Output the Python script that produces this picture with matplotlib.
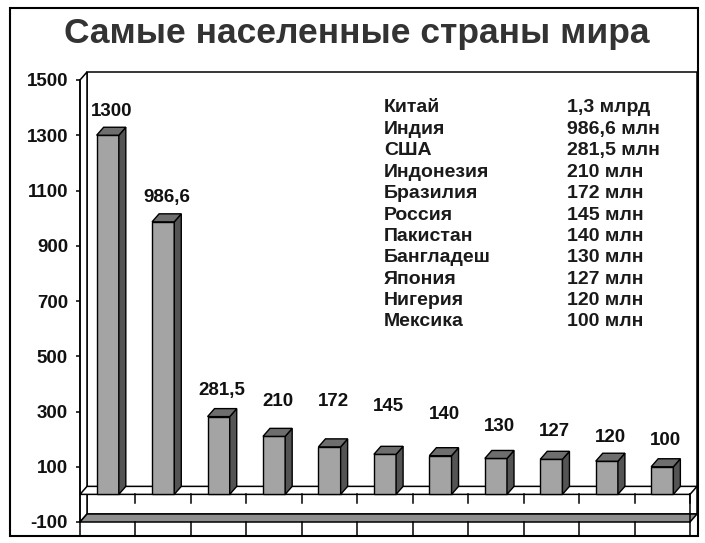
import matplotlib
matplotlib.use("Agg")
import matplotlib.pyplot as plt
from matplotlib.patches import Polygon, Rectangle

# ---------------- data ----------------
countries = ["Китай", "Индия", "США", "Индонезия", "Бразилия", "Россия",
             "Пакистан", "Бангладеш", "Япония", "Нигерия", "Мексика"]
population = [1300, 986.6, 281.5, 210, 172, 145, 140, 130, 127, 120, 100]
bar_labels = ["1300", "986,6", "281,5", "210", "172", "145", "140",
              "130", "127", "120", "100"]
legend_values = ["1,3 млрд", "986,6 млн", "281,5 млн", "210 млн", "172 млн",
                 "145 млн", "140 млн", "130 млн", "127 млн", "120 млн", "100 млн"]
yticks = [-100, 100, 300, 500, 700, 900, 1100, 1300, 1500]
title = "Самые населенные страны мира"

# ---------------- layout / style ----------------
plt.rcParams['font.family'] = ['Liberation Sans', 'DejaVu Sans']
W, H = 705, 543
DPI = 100
fig = plt.figure(figsize=(W / DPI, H / DPI), dpi=DPI)
fig.patch.set_facecolor('white')

AX_L, AX_R, AX_T, AX_B = 80, 690, 80, 522   # pixel box of front plane
ax = fig.add_axes([AX_L / W, 1 - AX_B / H, (AX_R - AX_L) / W, (AX_B - AX_T) / H])
ncat = len(population)
ymin, ymax = yticks[0], yticks[-1]
ax.set_xlim(0, ncat)
ax.set_ylim(ymin, ymax)
ax.set_facecolor('none')

px_x = (AX_R - AX_L) / ncat          # px per category
px_y = (AX_B - AX_T) / (ymax - ymin)  # px per value unit
DX = 7 / px_x
DY = 8 / px_y

LW = 1.1
# back wall
ax.add_patch(Polygon([(DX, ymin + DY), (DX, ymax + DY), (ncat + DX, ymax + DY),
                      (ncat + DX, ymin + DY)], closed=True, fc='white', ec='black',
                     lw=LW, clip_on=False, zorder=1))
# left wall
ax.add_patch(Polygon([(0, ymin), (0, ymax), (DX, ymax + DY), (DX, ymin + DY)],
                     closed=True, fc='white', ec='black', lw=LW, clip_on=False, zorder=1))
# floor at minimum
ax.add_patch(Polygon([(0, ymin), (ncat, ymin), (ncat + DX, ymin + DY), (DX, ymin + DY)],
                     closed=True, fc='#8e8e8e', ec='black', lw=LW, clip_on=False, zorder=2))
# zero plane
ax.add_patch(Polygon([(0, 0), (ncat, 0), (ncat + DX, DY), (DX, DY)],
                     closed=True, fc='white', ec='black', lw=LW, clip_on=False, zorder=2))
ax.plot([ncat, ncat], [ymin, 0], color='black', lw=LW, clip_on=False, zorder=2)

# category ticks
t1 = 9 / px_y
t2 = 13 / px_y
for i in range(ncat + 1):
    if i > 0:
        ax.plot([i, i], [0, -t1], color='black', lw=LW, clip_on=False, zorder=2)
    ax.plot([i, i], [ymin, ymin - t2], color='black', lw=LW, clip_on=False, zorder=2)

# bars
xs = [i + 0.5 for i in range(ncat)]
bars = ax.bar(xs, population, width=0.4, bottom=0, color='#a4a4a4',
              edgecolor='black', lw=1.0, zorder=5)
for rect in bars:
    xl = rect.get_x()
    xr = xl + rect.get_width()
    v = rect.get_height()
    ax.add_patch(Polygon([(xr, 0), (xr + DX, DY), (xr + DX, v + DY), (xr, v)],
                         closed=True, fc='#545454', ec='black', lw=1.0, zorder=5))
    ax.add_patch(Polygon([(xl, v), (xr, v), (xr + DX, v + DY), (xl + DX, v + DY)],
                         closed=True, fc='#6e6e6e', ec='black', lw=1.0, zorder=5))

# value labels (offset above bar top, in pixels)
label_off_px = [24, 24, 26, 35, 45, 48, 41, 32, 28, 24, 26]
for x, v, lab, off in zip(xs, population, bar_labels, label_off_px):
    ax.annotate(lab, xy=(x + DX / 2, v), xytext=(0, off * 72 / DPI),
                textcoords='offset points', ha='center', va='center',
                fontsize=13.5, fontweight='bold', color='#111111', zorder=6)

# axes / ticks
for s in ['top', 'right', 'bottom']:
    ax.spines[s].set_visible(False)
ax.spines['left'].set_linewidth(LW)
ax.spines['left'].set_zorder(3)
ax.set_xticks([])
ax.set_yticks(yticks)
ax.set_yticklabels([str(t) for t in yticks])
ax.tick_params(axis='y', direction='out', length=4 * 72 / DPI, width=LW,
               pad=8 * 72 / DPI, labelsize=13.5)
for t in ax.get_yticklabels():
    t.set_fontweight('bold')
    t.set_color('#111111')

# legend table
row0, row_step = 108, 21.4
for i, (c, val) in enumerate(zip(countries, legend_values)):
    y = 1 - (row0 + i * row_step) / H
    fig.text(384 / W, y, c, ha='left', va='center', fontsize=14,
             fontweight='bold', color='#1a1a1a')
    fig.text(567 / W, y, val, ha='left', va='center', fontsize=14,
             fontweight='bold', color='#1a1a1a')

# title
fig.text(357 / W, 1 - 33 / H, title, ha='center', va='center', fontsize=25.5,
         fontweight='bold', color='#333333')

# outer frame
fig.add_artist(Rectangle((10 / W, 1 - 536 / H), (698 - 10) / W, (536 - 8) / H,
                         transform=fig.transFigure, fill=False, lw=1.5, ec='black'))

fig.savefig('out.png', dpi=DPI)
